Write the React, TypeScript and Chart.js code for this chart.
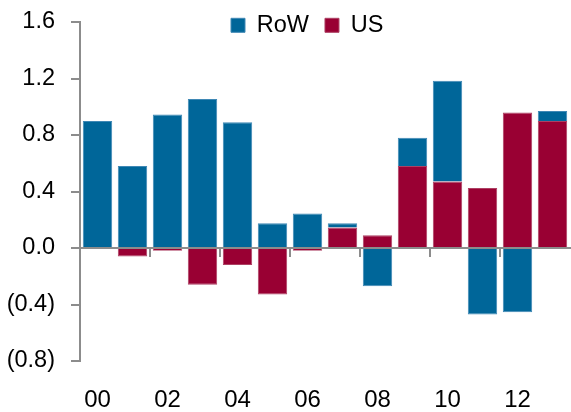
import { useEffect, useRef } from 'react';
import { Chart, registerables } from 'chart.js';

Chart.register(...registerables);

const categories = ['00', '01', '02', '03', '04', '05', '06', '07', '08', '09', '10', '11', '12', '13'];
const usValues = [0, -0.06, -0.02, -0.26, -0.12, -0.33, -0.02, 0.145, 0.09, 0.58, 0.47, 0.425, 0.96, 0.9];
const rowValues = [0.9, 0.58, 0.945, 1.055, 0.89, 0.175, 0.245, 0.03, -0.27, 0.2, 0.715, -0.47, -0.455, 0.07];
const yTicks = [-0.8, -0.4, 0, 0.4, 0.8, 1.2, 1.6];

const BLUE = '#006699';
const BLUE_EDGE = '#3f88b5';
const MAROON = '#990033';
const MAROON_EDGE = '#ad4063';
const GREY = '#8c8c8c';
const FONT_FAMILY = "'Liberation Sans', Arial, Helvetica, sans-serif";

function fmt(v: number): string {
  if (Math.abs(v) < 1e-9) return '0.0';
  return v < 0 ? `(${Math.abs(v).toFixed(1)})` : v.toFixed(1);
}

export default function App() {
  const ref = useRef<HTMLCanvasElement>(null);

  useEffect(() => {
    document.body.style.margin = '0';
    const canvas = ref.current;
    if (!canvas) return;

    const legendPlace = {
      id: 'legendPlace',
      afterLayout(chart: any) {
        const lg = chart.legend;
        if (!lg) return;
        const p = lg.options.labels.padding;
        const fs = lg.options.labels.font.size;
        const boxX = 231;
        const centerY = 25.3;
        lg.left = boxX - p;
        lg.right = lg.left + 571;
        lg.width = 571;
        lg.top = centerY - fs / 2 - p;
        lg.bottom = lg.top + fs + 2 * p + 10;
        lg.height = lg.bottom - lg.top;
      },
    };

    const chart = new Chart(canvas, {
      type: 'bar',
      data: {
        labels: categories,
        datasets: [
          {
            label: 'US',
            data: usValues,
            backgroundColor: MAROON,
            borderColor: MAROON_EDGE,
            borderWidth: 1,
          },
          {
            label: 'RoW',
            data: rowValues,
            backgroundColor: BLUE,
            borderColor: BLUE_EDGE,
            borderWidth: 1,
          },
        ],
      },
      options: {
        responsive: true,
        maintainAspectRatio: false,
        animation: false,
        layout: { padding: { top: 22, right: 1, bottom: 0, left: 0 } },
        datasets: {
          bar: { categoryPercentage: 1, barPercentage: 0.84 },
        },
        plugins: {
          tooltip: { enabled: false },
          legend: {
            display: true,
            position: 'top',
            align: 'start',
            maxHeight: 0.01,
            labels: {
              boxWidth: 14,
              boxHeight: 14,
              padding: 16,
              color: '#000',
              font: { family: FONT_FAMILY, size: 23.5 },
              sort: (a: any, b: any) => b.datasetIndex - a.datasetIndex,
            },
          },
        },
        scales: {
          x: {
            type: 'category',
            stacked: true,
            offset: true,
            grid: { display: false },
            border: { display: false },
            ticks: {
              autoSkip: false,
              maxRotation: 0,
              padding: 17,
              color: '#000',
              font: { family: FONT_FAMILY, size: 24 },
              callback: (_v: any, i: number) => (i % 2 === 0 ? categories[i] : ''),
            },
            afterFit: (scale: any) => {
              scale.height = 51;
            },
          },
          x2: {
            type: 'category',
            axis: 'x',
            labels: categories,
            position: { y: 0 },
            offset: true,
            grid: {
              display: true,
              offset: true,
              drawOnChartArea: false,
              drawTicks: true,
              tickLength: 8,
              lineWidth: 2,
              z: 1,
              color: (ctx: any) =>
                typeof ctx.index === 'number' && ctx.index > 0 && ctx.index % 2 === 0 ? GREY : 'rgba(0,0,0,0)',
            },
            border: { display: true, color: GREY, width: 2, z: 1 },
            ticks: { display: false, autoSkip: false },
            afterFit: (scale: any) => {
              scale.height = 0;
            },
          },
          y: {
            stacked: true,
            min: -0.8,
            max: 1.6,
            afterBuildTicks: (scale: any) => {
              scale.ticks = yTicks.map((v) => ({ value: v }));
            },
            grid: {
              display: true,
              drawOnChartArea: false,
              drawTicks: true,
              tickLength: 9,
              lineWidth: 2,
              color: GREY,
            },
            border: { display: true, color: GREY, width: 2 },
            ticks: {
              padding: 16,
              color: '#000',
              font: { family: FONT_FAMILY, size: 23.5 },
              callback: (v: any) => fmt(Number(v)),
            },
            afterFit: (scale: any) => {
              scale.width = 80;
              scale.paddingTop = 0;
              scale.paddingBottom = 0;
            },
          },
        },
      },
      plugins: [legendPlace],
    } as any);

    return () => {
      chart.destroy();
    };
  }, []);

  return (
    <div style={{ width: 571, height: 412, position: 'relative' }}>
      <canvas ref={ref} />
    </div>
  );
}
